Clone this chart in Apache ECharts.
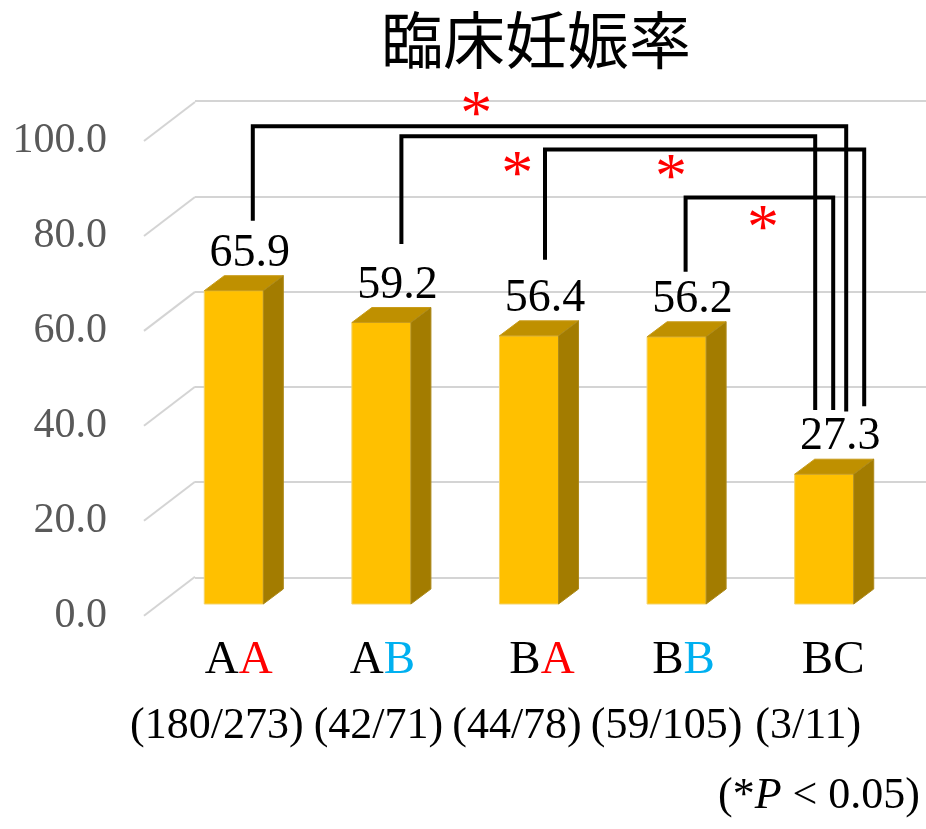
<!DOCTYPE html>
<html>
<head>
<meta charset="utf-8">
<title>臨床妊娠率</title>
<script src="https://cdn.jsdelivr.net/npm/echarts@6/dist/echarts.min.js"></script>
<style>
html,body{margin:0;padding:0;background:#fff;}
#chartContainerID{width:926px;height:829px;}
</style>
</head>
<body>
<div id="chartContainerID"></div>
<script>
let chartContainerID = document.getElementById("chartContainerID");

// values
var categories = ['AA', 'AB', 'BA', 'BB', 'BC'];
var counts = ['(180/273)', '(42/71)', '(44/78)', '(59/105)', '(3/11)'];
var rates = [65.9, 59.2, 56.4, 56.2, 27.3];
var yTicks = [0, 20, 40, 60, 80, 100];

// significance brackets: [from group, to group], level of the top line, ends of the legs
var bracketPairs = [[0, 4], [1, 4], [2, 4], [3, 4]];
var bracketTop = [100.5, 98.4, 95.6, 85.5];
var bracketFromEnd = [80.6, 75.7, 72.4, 69.9];
var bracketToEnd = [40.5, 40.8, 41.6, 40.8];
// asterisks: position in group units, value
var starX = [1.643, 1.921, 2.962, 3.585];
var starY = [104.9, 92.3, 91.6, 80.9];

// layout bits (pixels)
var legFromDx = [19, 20, 16, 9];
var legToDx = [22, -9, 40, 9];
var depthDx = 20, depthDy = -15;
var line1Nudge = [5, 1, 13, 7, 9];
var line2Nudge = [-17, -3, -12, -10, -16];
var letterColor = {A: '#FF0000', B: '#00B0F0', C: '#000000'};

var serif = '"Liberation Serif", "Times New Roman", serif';

var myChart = echarts.init(chartContainerID);

var option = {
  animation: false,
  backgroundColor: '#ffffff',
  title: {
    text: '臨床妊娠率',
    left: 376,
    top: 4,
    textStyle: {fontSize: 62, fontWeight: 'normal', color: '#000', fontFamily: '"Noto Sans CJK JP", sans-serif'}
  },
  grid: [
    // back wall
    {left: 195, right: 0, top: 101, bottom: 251.5},
    // front edge (tick labels)
    {left: 144, width: 51, top: 141, bottom: 213.3},
    // bars
    {left: 160, right: 28, top: 81, bottom: 225}
  ],
  xAxis: [
    {gridIndex: 0, type: 'value', min: 0, max: 1, show: false},
    {gridIndex: 1, type: 'value', min: 0, max: 1, show: false},
    {
      gridIndex: 2, type: 'category', data: categories,
      axisLine: {show: false}, axisTick: {show: false},
      axisLabel: {
        margin: 22,
        interval: 0,
        formatter: function (value, idx) {
          var a = value.charAt(0), b = value.charAt(1);
          var n1 = line1Nudge[idx], n2 = line2Nudge[idx];
          return '{p' + (n1 >= 0 ? 'L' : 'R') + Math.abs(n1) * 2 + '|' + a + '}{c' + b + '|' + b + '}\n' +
                 '{q' + (n2 >= 0 ? 'L' : 'R') + Math.abs(n2) * 2 + '|' + counts[idx] + '}';
        },
        rich: (function () {
          var r = {
            cA: {fontSize: 47, fontFamily: serif, color: letterColor.A, lineHeight: 70},
            cB: {fontSize: 47, fontFamily: serif, color: letterColor.B, lineHeight: 70},
            cC: {fontSize: 47, fontFamily: serif, color: letterColor.C, lineHeight: 70}
          };
          for (var k = 0; k < categories.length; k++) {
            var n1 = line1Nudge[k], n2 = line2Nudge[k];
            r['p' + (n1 >= 0 ? 'L' : 'R') + Math.abs(n1) * 2] = {
              fontSize: 47, fontFamily: serif, color: '#000', lineHeight: 70,
              padding: n1 >= 0 ? [0, 0, 0, Math.abs(n1) * 2] : [0, Math.abs(n1) * 2, 0, 0]
            };
            r['q' + (n2 >= 0 ? 'L' : 'R') + Math.abs(n2) * 2] = {
              fontSize: 44, fontFamily: serif, color: '#000', lineHeight: 60,
              padding: n2 >= 0 ? [0, 0, 0, Math.abs(n2) * 2] : [0, Math.abs(n2) * 2, 0, 0]
            };
          }
          return r;
        })()
      }
    }
  ],
  yAxis: [
    {
      gridIndex: 0, type: 'value', min: 0, max: 100, interval: 20,
      axisLine: {show: false}, axisTick: {show: false}, axisLabel: {show: false},
      splitLine: {show: true, lineStyle: {color: '#d4d4d4', width: 2}}
    },
    {
      gridIndex: 1, type: 'value', min: 0, max: 100, interval: 20,
      axisLine: {show: false}, axisTick: {show: false}, splitLine: {show: false},
      axisLabel: {
        margin: 37, fontSize: 42, fontFamily: serif, color: '#595959',
        formatter: function (v) { return v.toFixed(1); }
      }
    },
    {gridIndex: 2, type: 'value', min: 0, max: 110, show: false, splitLine: {show: false}}
  ],
  graphic: [{
    type: 'text',
    right: 6,
    top: 774,
    style: {
      text: '(*{i|P} < 0.05)',
      font: '44px ' + serif,
      fill: '#000',
      rich: {i: {fontStyle: 'italic', fontSize: 44, fontFamily: serif}}
    }
  }],
  series: [
    {
      // perspective edges of the grid lines
      type: 'custom', xAxisIndex: 1, yAxisIndex: 1,
      data: yTicks.map(function (v) { return [0, v]; }),
      renderItem: function (params, api) {
        var p = api.coord([0, api.value(1)]);
        return {
          type: 'line',
          shape: {x1: p[0], y1: p[1], x2: p[0] + 51, y2: p[1] - 39},
          style: {stroke: '#d4d4d4', lineWidth: 2}
        };
      }
    },
    {
      // 3D looking bars
      type: 'custom', xAxisIndex: 2, yAxisIndex: 2,
      data: rates.map(function (v, i) { return [i, v]; }),
      renderItem: function (params, api) {
        var i = api.value(0), v = api.value(1);
        var base = api.coord([i, 0]);
        var top = api.coord([i, v]);
        var bw = api.size([1, 0])[0] * 0.4;
        var x0 = base[0] - bw / 2, x1 = base[0] + bw / 2;
        return {
          type: 'group',
          children: [
            {type: 'rect', shape: {x: x0, y: top[1], width: bw, height: base[1] - top[1]},
             style: {fill: '#FFC000', stroke: '#f3d36b', lineWidth: 1}},
            {type: 'polygon', shape: {points: [[x0, top[1]], [x1, top[1]], [x1 + depthDx, top[1] + depthDy], [x0 + depthDx, top[1] + depthDy]]},
             style: {fill: '#BF9000', stroke: '#c99c1a', lineWidth: 1}},
            {type: 'polygon', shape: {points: [[x1, top[1]], [x1 + depthDx, top[1] + depthDy], [x1 + depthDx, base[1] + depthDy], [x1, base[1]]]},
             style: {fill: '#A37C00', stroke: '#ad8a1a', lineWidth: 1}},
            {type: 'text', x: base[0] + 16, y: top[1] + depthDy + 1,
             style: {text: v.toFixed(1), font: '46px ' + serif, fill: '#000', align: 'center', verticalAlign: 'bottom'}}
          ]
        };
      }
    },
    {
      // significance brackets
      type: 'custom', xAxisIndex: 2, yAxisIndex: 2,
      data: bracketPairs.map(function (p, k) { return [p[0], bracketTop[k], p[1], bracketFromEnd[k], bracketToEnd[k]]; }),
      encode: {x: [0, 2], y: [1, 3, 4]},
      renderItem: function (params, api) {
        var k = params.dataIndex;
        var a = api.coord([api.value(0), api.value(3)]);
        var t = api.coord([api.value(0), api.value(1)]);
        var b = api.coord([api.value(2), api.value(4)]);
        var fx = a[0] + legFromDx[k], tx = b[0] + legToDx[k];
        return {
          type: 'polyline', z2: 10,
          shape: {points: [[fx, a[1]], [fx, t[1]], [tx, t[1]], [tx, b[1]]]},
          style: {stroke: '#000', lineWidth: 4, fill: null, lineJoin: 'miter'}
        };
      }
    },
    {
      // asterisks
      type: 'custom', xAxisIndex: 2, yAxisIndex: 2,
      data: starX.map(function (x, k) { return [0, starY[k]]; }),
      renderItem: function (params, api) {
        var k = params.dataIndex;
        var p = api.coord([0, api.value(1)]);
        var band = api.size([1, 0])[0];
        return {
          type: 'text', z2: 11,
          x: p[0] + starX[k] * band, y: p[1] + 12,
          style: {text: '*', font: '64px ' + serif, fill: '#FF0000', align: 'center', verticalAlign: 'middle'}
        };
      }
    }
  ]
};

myChart.setOption(option);
</script>
</body>
</html>
